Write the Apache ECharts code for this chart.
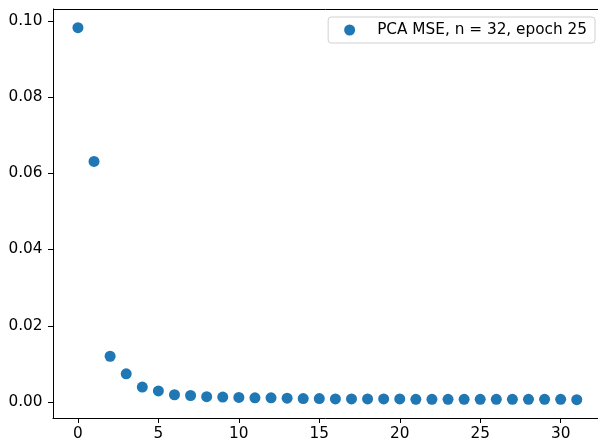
<!DOCTYPE html>
<html><head><meta charset="utf-8">
<script src="https://cdn.jsdelivr.net/npm/echarts@6/dist/echarts.min.js"></script>
<style>html,body{margin:0;padding:0;background:#fff}#c{width:598px;height:446px}</style>
</head><body><div id="c"></div>
<script>
var epochs = [0,1,2,3,4,5,6,7,8,9,10,11,12,13,14,15,16,17,18,19,20,21,22,23,24,25,26,27,28,29,30,31];
var mse = [0.0982,0.0631,0.0120,0.0074,0.0039,0.0029,0.0019,0.0017,0.0014,0.0013,0.0012,0.0011,0.0011,0.0010,0.0009,0.0009,0.0008,0.0008,0.0008,0.0008,0.0008,0.0007,0.0007,0.0007,0.0007,0.0007,0.0007,0.0007,0.0007,0.0007,0.0007,0.0006];
var seriesName = 'PCA MSE, n = 32, epoch 25';
var xTicks = [0,5,10,15,20,25,30];
var yTicks = [0,0.02,0.04,0.06,0.08,0.10];

var chart = echarts.init(document.getElementById('c'), null, {renderer:'canvas'});
var font = '"DejaVu Sans", sans-serif';
var fs = 15.3;
var data = epochs.map(function(e,i){return [e, mse[i]];});
chart.setOption({
  animation:false,
  grid:{left:53, top:9, width:545, height:409, containLabel:false},
  xAxis:{type:'value', min:-1.55, max:32.32,
    axisLine:{show:true, onZero:false, lineStyle:{color:'#000', width:1}},
    axisTick:{show:true, length:5, lineStyle:{color:'#000'}, customValues:xTicks},
    axisLabel:{color:'#000', fontFamily:font, fontSize:fs, margin:9, customValues:xTicks,
      formatter:function(v){return String(v);}},
    splitLine:{show:false}},
  yAxis:{type:'value', min:-0.0042, max:0.1031,
    axisLine:{show:true, onZero:false, lineStyle:{color:'#000', width:1}},
    axisTick:{show:true, length:5, lineStyle:{color:'#000'}, customValues:yTicks},
    axisLabel:{color:'#000', fontFamily:font, fontSize:fs, margin:10.5, customValues:yTicks,
      formatter:function(v){return v.toFixed(2);}},
    splitLine:{show:false}},
  legend:{show:true, data:[{name:seriesName, icon:'circle'}], right:3, top:17,
    itemWidth:11, itemHeight:11, padding:[5,8,5,16],
    borderColor:'#d0d0d0', borderWidth:1, borderRadius:3, backgroundColor:'#fff',
    textStyle:{color:'#000', fontFamily:font, fontSize:fs, lineHeight:16, padding:[0,0,0,17]}},
  graphic:[{type:'line', shape:{x1:53, y1:9.5, x2:598, y2:9.5}, style:{stroke:'#000', lineWidth:1}}],
  series:[{type:'scatter', name:seriesName, data:data, symbolSize:11,
    itemStyle:{color:'#1f77b4', opacity:1}}]
});
</script></body></html>
